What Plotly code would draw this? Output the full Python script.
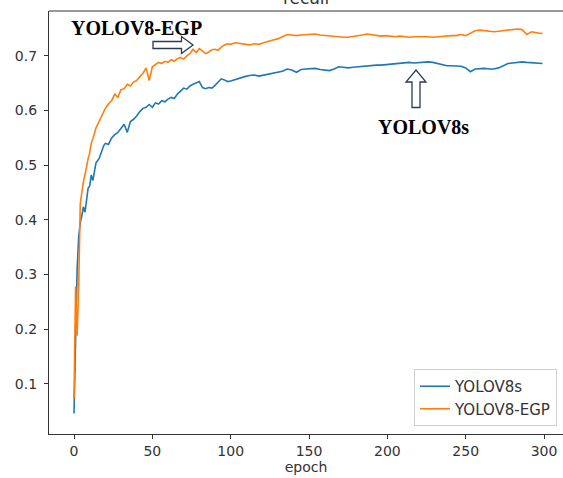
import plotly.graph_objects as go

# ---------------- data ----------------
epochs = list(range(0, 21)) + list(range(22, 101, 2)) + list(range(103, 299, 3)) + [299]

yolov8s = [
    0.046, 0.200, 0.310, 0.370, 0.395, 0.408, 0.424, 0.414, 0.440, 0.458,
    0.462, 0.482, 0.472, 0.490, 0.504, 0.508, 0.512, 0.520, 0.530, 0.536,
    0.540,
    # 22..100 step 2
    0.538, 0.550, 0.556, 0.560, 0.568, 0.575, 0.560, 0.580, 0.584, 0.590,
    0.598, 0.604, 0.606, 0.611, 0.606, 0.614, 0.612, 0.618, 0.616, 0.621,
    0.624, 0.622, 0.630, 0.636, 0.641, 0.639, 0.645, 0.648, 0.651, 0.653,
    0.642, 0.640, 0.642, 0.641, 0.646, 0.652, 0.658, 0.656, 0.653, 0.654,
    # 103..298 step 3
    0.657, 0.659, 0.662, 0.664, 0.665, 0.663, 0.665, 0.666, 0.668, 0.671,
    0.672, 0.676, 0.674, 0.670, 0.675, 0.676, 0.676, 0.677, 0.675, 0.674,
    0.673, 0.676, 0.680, 0.679, 0.678, 0.679, 0.680, 0.680, 0.681, 0.682,
    0.683, 0.683, 0.684, 0.685, 0.685, 0.686, 0.687, 0.688, 0.687, 0.688,
    0.688, 0.689, 0.688, 0.686, 0.684, 0.682, 0.682, 0.681, 0.681, 0.678,
    0.671, 0.676, 0.677, 0.677, 0.676, 0.676, 0.678, 0.682, 0.686, 0.687,
    0.688, 0.689, 0.688, 0.687, 0.686, 0.686,
    # 299
    0.686,
]

yolov8_egp = [
    0.073, 0.278, 0.188, 0.280, 0.430, 0.452, 0.470, 0.482, 0.500, 0.512,
    0.522, 0.540, 0.548, 0.560, 0.568, 0.574, 0.580, 0.586, 0.592, 0.598,
    0.604,
    # 22..100 step 2
    0.612, 0.618, 0.630, 0.624, 0.638, 0.640, 0.648, 0.645, 0.652, 0.655,
    0.662, 0.668, 0.678, 0.655, 0.680, 0.684, 0.688, 0.686, 0.690, 0.688,
    0.693, 0.690, 0.695, 0.697, 0.694, 0.700, 0.704, 0.712, 0.706, 0.713,
    0.708, 0.704, 0.707, 0.711, 0.712, 0.710, 0.716, 0.720, 0.722, 0.721,
    # 103..298 step 3
    0.724, 0.723, 0.721, 0.720, 0.722, 0.721, 0.724, 0.727, 0.729, 0.731,
    0.735, 0.739, 0.738, 0.737, 0.738, 0.739, 0.740, 0.740, 0.738, 0.737,
    0.736, 0.735, 0.735, 0.734, 0.734, 0.735, 0.736, 0.738, 0.740, 0.739,
    0.737, 0.736, 0.737, 0.736, 0.735, 0.736, 0.735, 0.734, 0.735, 0.735,
    0.736, 0.735, 0.734, 0.735, 0.736, 0.736, 0.737, 0.737, 0.739, 0.737,
    0.741, 0.746, 0.747, 0.746, 0.745, 0.744, 0.745, 0.746, 0.747, 0.748,
    0.749, 0.748, 0.739, 0.744, 0.742, 0.741,
    # 299
    0.741,
]

x_ticks = [0, 50, 100, 150, 200, 250, 300]
y_ticks = [0.1, 0.2, 0.3, 0.4, 0.5, 0.6, 0.7]
y_tick_labels = ["0.1", "0.2", "0.3", "0.4", "0.5", "0.6", "0.7"]

# ---------------- layout geometry ----------------
W, H = 563, 478
ML, MR, MT, MB = 49, 0, 11, 44
PW, PH = W - ML - MR, H - MT - MB


def px(x):
    return (x - ML) / PW


def py(y):
    return (H - MB - y) / PH


fig = go.Figure()
fig.add_trace(go.Scatter(x=epochs, y=yolov8s, mode="lines", name="YOLOV8s",
                         line=dict(color="#1f77b4", width=1.6)))
fig.add_trace(go.Scatter(x=epochs, y=yolov8_egp, mode="lines", name="YOLOV8-EGP",
                         line=dict(color="#ff7f0e", width=1.6)))

axis_font = dict(family="DejaVu Sans", size=14, color="#333333")

fig.update_layout(
    width=W, height=H,
    margin=dict(l=ML, r=MR, t=MT, b=MB, pad=0),
    paper_bgcolor="white", plot_bgcolor="white",
    showlegend=True,
    legend=dict(x=px(557), y=py(426), xanchor="right", yanchor="bottom",
                bgcolor="white", bordercolor="#d0d0d0", borderwidth=1,
                font=dict(family="DejaVu Sans", size=15, color="#333333"),
                itemwidth=30, tracegroupgap=0),
    xaxis=dict(range=[-15.96, 312.1], tickvals=x_ticks, ticks="outside",
               ticklen=4, tickcolor="#333333", showline=True, linecolor="#333333",
               linewidth=1.2, showgrid=False, zeroline=False, tickfont=axis_font,
               mirror=False, title=dict(text="epoch", font=axis_font, standoff=2)),
    yaxis=dict(range=[0.0085, 0.782], tickvals=y_ticks, ticktext=y_tick_labels,
               ticks="outside", ticklen=4, tickcolor="#333333", showline=True,
               linecolor="#333333", linewidth=1.2, showgrid=False, zeroline=False,
               mirror=False, tickfont=axis_font, ticklabelstandoff=4),
)

# top spine (right spine is cut off in the reference)
fig.add_shape(type="line", xref="paper", yref="paper", x0=0, x1=1, y0=1, y1=1,
              line=dict(color="#333333", width=1.2))

# partially visible title
fig.add_annotation(text="recall", xref="paper", yref="paper", x=0.5, y=1,
                   xanchor="center", yanchor="bottom", yshift=1, showarrow=False,
                   font=dict(family="DejaVu Sans", size=17, color="#333333"))

# series labels
lab_font = dict(family="Liberation Serif", size=20, color="black")
fig.add_annotation(text="<b>YOLOV8-EGP</b>", xref="paper", yref="paper",
                   x=px(136), y=py(27.5), xanchor="center", yanchor="middle",
                   showarrow=False, font=lab_font)
fig.add_annotation(text="<b>YOLOV8s</b>", xref="paper", yref="paper",
                   x=px(423), y=py(127), xanchor="center", yanchor="middle",
                   showarrow=False, font=lab_font)

# hollow arrows
def path(points):
    return "M " + " L ".join(f"{px(a):.5f},{py(b):.5f}" for a, b in points) + " Z"


right_arrow = [(153, 41.5), (181.5, 41.5), (181.5, 36.5), (193, 45),
               (181.5, 53.5), (181.5, 48.5), (153, 48.5)]
up_arrow = [(412, 107.5), (412, 82), (406, 82), (416, 70), (426, 82),
            (420, 82), (420, 107.5)]
for pts in (right_arrow, up_arrow):
    fig.add_shape(type="path", xref="paper", yref="paper", path=path(pts),
                  line=dict(color="#2b3a55", width=1.3), fillcolor="white")

fig.write_html("out.html",
               config={"displayModeBar": False},
               post_script="document.body.style.margin='0';"
                           "document.body.style.overflow='hidden';")
